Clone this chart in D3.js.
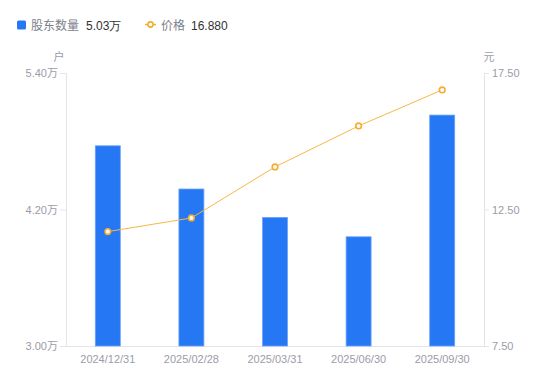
<!DOCTYPE html>
<html>
<head>
<meta charset="utf-8">
<script src="https://cdn.jsdelivr.net/npm/d3@7"></script>
<style>
  body { margin: 0; background: #fff; }
  svg { font-family: "Noto Sans CJK SC", "Liberation Sans", sans-serif; }
  .tick text { fill: #9b9ca8; font-size: 11px; font-family: "Liberation Sans", "Noto Sans CJK SC", sans-serif; }
</style>
</head>
<body>
<svg id="chart" width="550" height="381"></svg>
<script>
// holders count (万户) and price (元) per report date
const dates = ['2024/12/31', '2025/02/28', '2025/03/31', '2025/06/30', '2025/09/30'];
const holders = [4.76, 4.38, 4.13, 3.96, 5.03];
const prices = [11.69, 12.19, 14.06, 15.56, 16.88];
const leftTicks = [3.0, 4.2, 5.4];
const rightTicks = [7.5, 12.5, 17.5];

const svg = d3.select('#chart');
const margin = { top: 73, right: 66, bottom: 35, left: 66 };
const width = +svg.attr('width');
const height = +svg.attr('height');
const innerWidth = width - margin.left - margin.right;
const innerHeight = height - margin.top - margin.bottom;

const x = d3.scaleBand().domain(dates).range([0, innerWidth]);
const yL = d3.scaleLinear().domain([3.0, 5.4]).range([innerHeight, 0]);
const yR = d3.scaleLinear().domain([7.5, 17.5]).range([innerHeight, 0]);

const g = svg.append('g').attr('transform', `translate(${margin.left},${margin.top})`);

const axisColor = '#e3e4e9';

// axes
g.append('g')
  .call(d3.axisLeft(yL).tickValues(leftTicks).tickSize(6).tickPadding(2)
    .tickFormat(d => d3.format('.2f')(d) + '万'))
  .call(a => a.select('.domain').attr('stroke', axisColor))
  .call(a => a.selectAll('.tick line').attr('stroke', axisColor));

g.append('g')
  .attr('transform', `translate(${innerWidth},0)`)
  .call(d3.axisRight(yR).tickValues(rightTicks).tickSize(5).tickPadding(3)
    .tickFormat(d3.format('.2f')))
  .call(a => a.select('.domain').attr('stroke', axisColor))
  .call(a => a.selectAll('.tick line').attr('stroke', axisColor));

g.append('g')
  .attr('transform', `translate(0,${innerHeight})`)
  .call(d3.axisBottom(x).tickSize(0).tickPadding(9))
  .call(a => a.select('.domain').attr('stroke', axisColor));

// unit labels
svg.append('text').attr('x', 59).attr('y', 61).attr('text-anchor', 'middle')
  .attr('fill', '#9b9ca8').attr('font-size', 11).text('户');
svg.append('text').attr('x', 489).attr('y', 61).attr('text-anchor', 'middle')
  .attr('fill', '#9b9ca8').attr('font-size', 11).text('元');

// bars
const barW = 25;
g.selectAll('.bar')
  .data(holders)
  .join('rect')
  .attr('class', 'bar')
  .attr('x', (d, i) => x(dates[i]) + x.bandwidth() / 2 - barW / 2)
  .attr('y', d => yL(d))
  .attr('width', barW)
  .attr('height', d => innerHeight - yL(d))
  .attr('fill', '#2577f4')
  .attr('stroke', '#6aa3fa')
  .attr('stroke-width', 0.8);

// price line
const line = d3.line()
  .x((d, i) => x(dates[i]) + x.bandwidth() / 2)
  .y(d => yR(d));

g.append('path')
  .datum(prices)
  .attr('fill', 'none')
  .attr('stroke', '#f7b844')
  .attr('stroke-width', 1)
  .attr('d', line);

g.selectAll('.pt')
  .data(prices)
  .join('circle')
  .attr('class', 'pt')
  .attr('cx', (d, i) => x(dates[i]) + x.bandwidth() / 2)
  .attr('cy', d => yR(d))
  .attr('r', 2.8)
  .attr('fill', '#fff')
  .attr('stroke', '#f6ad2f')
  .attr('stroke-width', 1.6);

// legend
const lg = svg.append('g').attr('font-size', 12);
lg.append('rect').attr('x', 17).attr('y', 20.5).attr('width', 9).attr('height', 9)
  .attr('rx', 1.5).attr('fill', '#2577f4');
lg.append('text').attr('x', 31).attr('y', 29.5).attr('fill', '#7c7f8a').text('股东数量');
lg.append('text').attr('x', 86).attr('y', 29.5).attr('fill', '#333')
  .attr('font-family', '"Liberation Sans", sans-serif').text(d3.format('.2f')(holders[4]) + '万');

lg.append('line').attr('x1', 145).attr('x2', 156).attr('y1', 24.5).attr('y2', 24.5)
  .attr('stroke', '#f6ad2f').attr('stroke-width', 1.5);
lg.append('circle').attr('cx', 150.5).attr('cy', 24.5).attr('r', 2.6)
  .attr('fill', '#fff').attr('stroke', '#f6ad2f').attr('stroke-width', 1.6);
lg.append('text').attr('x', 161).attr('y', 29.5).attr('fill', '#7c7f8a').text('价格');
lg.append('text').attr('x', 191).attr('y', 29.5).attr('fill', '#333')
  .attr('font-family', '"Liberation Sans", sans-serif').text(d3.format('.3f')(prices[4]));
</script>
</body>
</html>
